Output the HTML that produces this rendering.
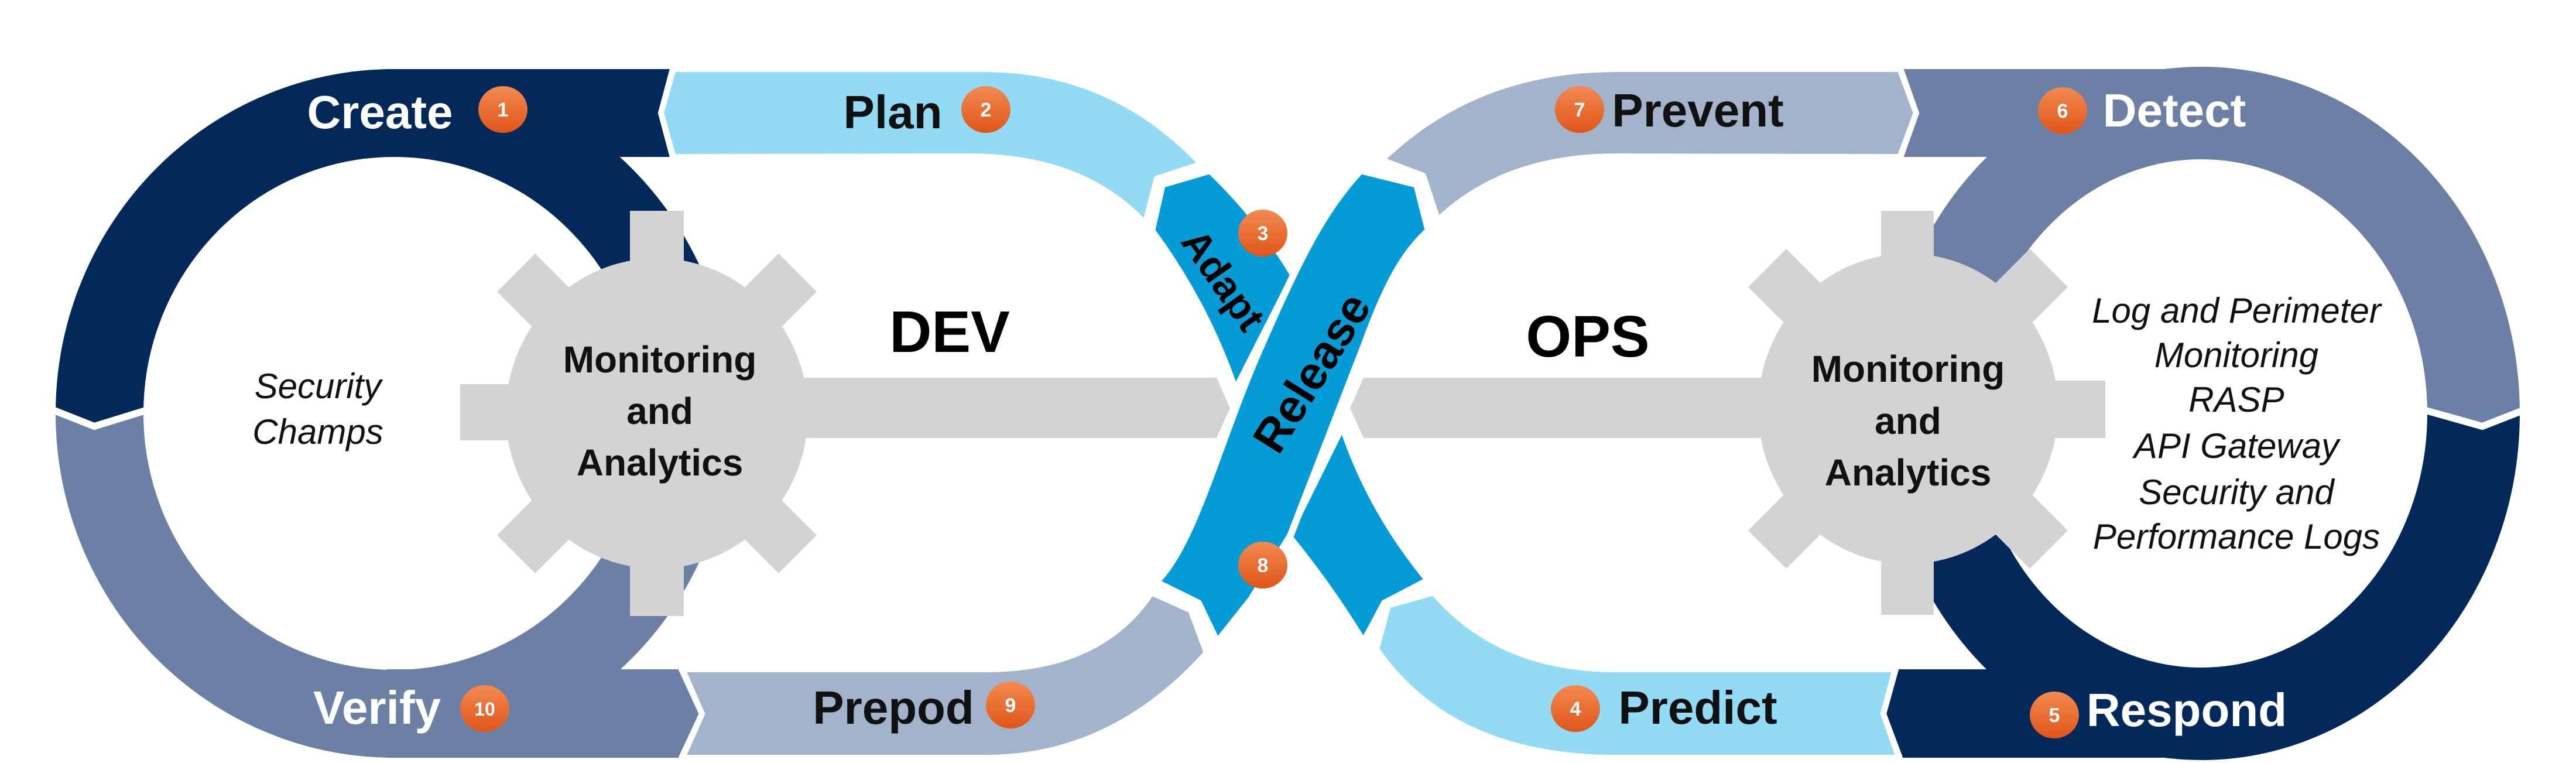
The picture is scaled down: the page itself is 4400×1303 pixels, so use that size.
<!DOCTYPE html>
<html><head><meta charset="utf-8"><style>
html,body{margin:0;padding:0;background:#fff;}
svg{display:block;}
.t{font-family:"Liberation Sans",sans-serif;font-weight:bold;}
.i{font-family:"Liberation Sans",sans-serif;font-style:italic;}
</style></head><body>
<svg width="4400" height="1303" viewBox="0 0 4400 1303" xmlns="http://www.w3.org/2000/svg">
<defs>
<linearGradient id="og" x1="0" y1="0" x2="0" y2="1">
<stop offset="0" stop-color="#f28a52"/><stop offset="1" stop-color="#e05518"/>
</linearGradient>
</defs>
<rect width="4400" height="1303" fill="#fff"/>

<!-- Left ring -->
<path d="M170,706 A503,513 0 0 1 1176,706" fill="none" stroke="#03285a" stroke-width="150"/>
<path d="M170,706 A503,513 0 0 0 1176,706" fill="none" stroke="#6b80a4" stroke-width="150"/>
<polygon points="92,700 250,700 161,724" fill="#03285a"/>
<polyline points="90,700 161,728 252,700" fill="none" stroke="#fff" stroke-width="12"/>

<!-- Right ring -->
<path d="M3295,706 A465,513 0 0 1 4225,706" fill="none" stroke="#6b80a4" stroke-width="158"/>
<path d="M3295,706 A465,513 0 0 0 4225,706" fill="none" stroke="#03285a" stroke-width="158"/>
<polygon points="4142,700 4310,700 4240,724" fill="#6b80a4"/>
<polyline points="4140,700 4240,728 4312,700" fill="none" stroke="#fff" stroke-width="12"/>

<g stroke="#fff" stroke-width="10" stroke-linejoin="round">
<polygon points="660,118 1150,118 1129,193 1150,268 660,268" fill="#03285a" stroke="none"/>
<path d="M1150,118 L1680,118 Q1900,118 2052,280 L1976,305 L1956,382 Q1850,267 1655,267 L1150,268 L1129,193 Z" fill="#93dbf4"/>
<polygon points="660,1143 1164,1143 1199,1219 1164,1294 660,1294" fill="#6b80a4" stroke="none"/>
<path d="M1164,1143 L1684,1143 Q1880,1143 1967,1012 L2034,1042 L2061,1115 Q1900,1294 1684,1294 L1164,1294 L1199,1219 Z" fill="#a3b3cc"/>
<path d="M3245,118 L3770,118 L3770,268 L3245,268 L3273,193 Z" fill="#6b80a4" stroke="none"/>
<path d="M2360,273 Q2520,118 2760,118 L3245,118 L3273,193 L3245,268 L2761,267 Q2570,267 2456,376 L2431,300 Z" fill="#a3b3cc"/>
<path d="M3238,1143 L3770,1143 L3770,1294 L3245,1294 L3217,1219 Z" fill="#03285a" stroke="none"/>
<path d="M2449,1012 Q2560,1143 2760,1143 L3238,1143 L3217,1219 L3245,1294 L2760,1294 Q2480,1294 2351,1109 L2371,1034 Z" fill="#93dbf4"/>
</g>
<polyline points="1150,114 1129,193 1150,272" fill="none" stroke="#fff" stroke-width="10"/>
<polyline points="1164,1139 1199,1219 1164,1298" fill="none" stroke="#fff" stroke-width="10"/>
<polyline points="3245,114 3273,193 3245,272" fill="none" stroke="#fff" stroke-width="10"/>
<polyline points="3238,1139 3217,1219 3245,1298" fill="none" stroke="#fff" stroke-width="10"/>

<!-- Gears -->
<g fill="#d3d3d3">
<ellipse cx="1122" cy="706" rx="258" ry="265"/>
<rect x="1076" y="360" width="92" height="692"/>
<rect x="786" y="656" width="340" height="96"/>
<rect x="1076" y="366" width="92" height="680" transform="rotate(45 1122 706)"/>
<rect x="1076" y="366" width="92" height="680" transform="rotate(-45 1122 706)"/>
<polygon points="1122,645 2078,645 2101,697 2078,748 1122,748"/>

<ellipse cx="3259" cy="698" rx="256" ry="265"/>
<rect x="3213" y="360" width="90" height="690"/>
<rect x="3259" y="650" width="337" height="98"/>
<rect x="3213" y="358" width="92" height="680" transform="rotate(45 3259 698)"/>
<rect x="3213" y="358" width="92" height="680" transform="rotate(-45 3259 698)"/>
<polygon points="3259,645 2329,645 2306,697 2329,748 3259,748"/>
</g>

<!-- Crossing -->
<g stroke="#fff" stroke-width="12" stroke-linejoin="round" fill="#049bd7">
<path d="M1967,394 L1985,315 L2067,291 Q2150,370 2210,470 L2110,667 Q2060,520 1967,394 Z"/>
<path d="M2293,727 Q2340,870 2440,991 L2365,1030 L2329,1097 Q2270,1000 2200,915 Z"/>
<path d="M1974,994 C2040,930 2080,760 2150,600 S2260,360 2324,291 L2420,315 L2440,394 C2400,430 2370,480 2330,590 L2204,915 L2137,1024 L2079,1097 L2047,1030 Z"/>
</g>

<!-- Labels -->
<g class="t" font-size="80">
<text x="649" y="219" text-anchor="middle" fill="#fff">Create</text>
<text x="1525" y="219" text-anchor="middle" fill="#111">Plan</text>
<text x="2900" y="216" text-anchor="middle" fill="#111">Prevent</text>
<text x="3714" y="216" text-anchor="middle" fill="#fff">Detect</text>
<text x="644" y="1236" text-anchor="middle" fill="#fff">Verify</text>
<text x="1526" y="1236" text-anchor="middle" fill="#111">Prepod</text>
<text x="2900" y="1236" text-anchor="middle" fill="#111">Predict</text>
<text x="3735" y="1240" text-anchor="middle" fill="#fff">Respond</text>
</g>
<g class="t" font-size="100" fill="#000">
<text x="1622" y="601" text-anchor="middle">DEV</text>
<text x="2712" y="609" text-anchor="middle">OPS</text>
</g>
<g class="t" font-size="64" fill="#111" text-anchor="middle">
<text x="1127" y="636">Monitoring</text>
<text x="1127" y="724">and</text>
<text x="1127" y="812">Analytics</text>
<text x="3259" y="652">Monitoring</text>
<text x="3259" y="741">and</text>
<text x="3259" y="829">Analytics</text>
</g>
<g class="i" font-size="60" fill="#111" text-anchor="middle">
<text x="543" y="680">Security</text>
<text x="543" y="758">Champs</text>
<text x="3820" y="551">Log and Perimeter</text>
<text x="3820" y="627">Monitoring</text>
<text x="3820" y="703">RASP</text>
<text x="3820" y="782">API Gateway</text>
<text x="3820" y="861">Security and</text>
<text x="3820" y="937">Performance Logs</text>
</g>
<text class="t" font-size="68" fill="#000" text-anchor="middle" transform="translate(2090,478) rotate(55)" dy="24">Adapt</text>
<text class="t" font-size="80" fill="#000" text-anchor="middle" transform="translate(2240,636) rotate(-58)" dy="28">Release</text>

<!-- Number badges -->
<g>
<g transform="translate(859,187)"><ellipse rx="42" ry="40" fill="url(#og)"/><text y="12" class="t" font-size="34" fill="#fff" text-anchor="middle">1</text></g>
<g transform="translate(1684,187)"><ellipse rx="42" ry="40" fill="url(#og)"/><text y="12" class="t" font-size="34" fill="#fff" text-anchor="middle">2</text></g>
<g transform="translate(2157,398)"><ellipse rx="42" ry="40" fill="url(#og)"/><text y="12" class="t" font-size="34" fill="#fff" text-anchor="middle">3</text></g>
<g transform="translate(2691,1210)"><ellipse rx="42" ry="40" fill="url(#og)"/><text y="12" class="t" font-size="34" fill="#fff" text-anchor="middle">4</text></g>
<g transform="translate(3509,1221)"><ellipse rx="42" ry="40" fill="url(#og)"/><text y="12" class="t" font-size="34" fill="#fff" text-anchor="middle">5</text></g>
<g transform="translate(3523,189)"><ellipse rx="42" ry="40" fill="url(#og)"/><text y="12" class="t" font-size="34" fill="#fff" text-anchor="middle">6</text></g>
<g transform="translate(2698,187)"><ellipse rx="42" ry="40" fill="url(#og)"/><text y="12" class="t" font-size="34" fill="#fff" text-anchor="middle">7</text></g>
<g transform="translate(2157,965)"><ellipse rx="42" ry="40" fill="url(#og)"/><text y="12" class="t" font-size="34" fill="#fff" text-anchor="middle">8</text></g>
<g transform="translate(1726,1204)"><ellipse rx="42" ry="40" fill="url(#og)"/><text y="12" class="t" font-size="34" fill="#fff" text-anchor="middle">9</text></g>
<g transform="translate(828,1210)"><ellipse rx="42" ry="40" fill="url(#og)"/><text y="12" class="t" font-size="32" fill="#fff" text-anchor="middle">10</text></g>
</g>
</svg>
</body></html>
